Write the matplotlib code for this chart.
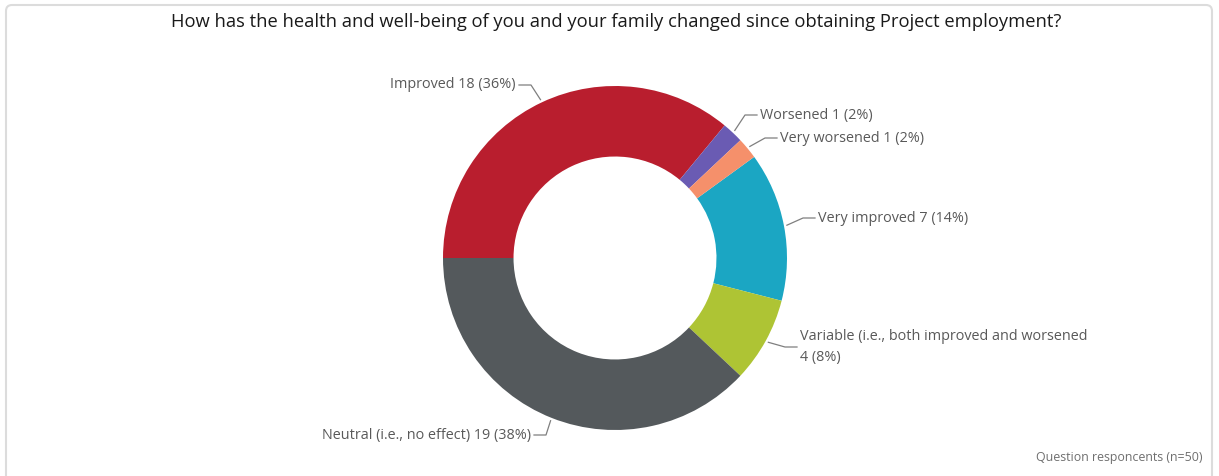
import matplotlib.pyplot as plt
import numpy as np
from matplotlib.patches import FancyBboxPatch

plt.rcParams['font.family'] = ['Open Sans', 'DejaVu Sans']

# Survey responses
categories = ['Very improved', 'Variable (i.e., both improved and worsened',
              'Neutral (i.e., no effect)', 'Improved', 'Worsened', 'Very worsened']
counts = [7, 4, 19, 18, 1, 1]
colors = ['#1ba6c3', '#aec434', '#54595c', '#b91e2e', '#6a5bb3', '#f5906b']
title = 'How has the health and well-being of you and your family changed since obtaining Project employment?'
footnote = 'Question responcents (n=50)'

W, H = 1219, 476
fig = plt.figure(figsize=(W / 100, H / 100), dpi=100)
ax = fig.add_axes([0, 0, 1, 1])

cx, cy, R = 615, H - 258, 172
start = 36  # degrees, counter-clockwise from 3 o'clock

wedges, _ = ax.pie(counts, colors=colors, startangle=start, counterclock=False,
                   center=(cx, cy), radius=R,
                   wedgeprops=dict(width=R * 0.41, edgecolor='none'))

ax.set_aspect('auto')
ax.set_xlim(0, W)
ax.set_ylim(0, H)
ax.axis('off')

# label anchor (x, y from top) and alignment
label_pos = [(818, 218, 'left'), (800, 347, 'left'), (531, 435, 'right'),
             (516, 85, 'right'), (760, 115, 'left'), (780, 138, 'left')]

total = sum(counts)
for w, name, n, (lx, ly, ha) in zip(wedges, categories, counts, label_pos):
    pct = round(100 * n / total)
    sep = '\n' if name.startswith('Variable') else ' '
    txt = f'{name}{sep}{n} ({pct}%)'
    ang = np.deg2rad((w.theta1 + w.theta2) / 2)
    x0 = cx + (R + 3) * np.cos(ang)
    y0 = cy + (R + 3) * np.sin(ang)
    ly_d = H - ly
    if ha == 'left':
        xs = [x0, lx - 15, lx - 3]
    else:
        xs = [x0, lx + 15, lx + 3]
    ax.plot(xs, [y0, ly_d, ly_d], color='#7f7f7f', lw=0.9)
    ax.text(lx, ly_d, txt, ha=ha, va='center', fontsize=10.4, color='#595959',
            linespacing=1.5)

fig.text(616 / W, 1 - 22 / H, title, ha='center', va='center', fontsize=13.2,
         color='#1a1a1a')
fig.text(1202 / W, 1 - 457 / H, footnote, ha='right', va='center', fontsize=8.9,
         color='#6f6f6f')

# outer frame
frame = FancyBboxPatch((6, -20), W - 13, H - 5 + 20, boxstyle='round,pad=0,rounding_size=6',
                       facecolor='none', edgecolor='#dcdcdc', lw=1.5, clip_on=False)
ax.add_patch(frame)

fig.savefig('out.png', dpi=100)
